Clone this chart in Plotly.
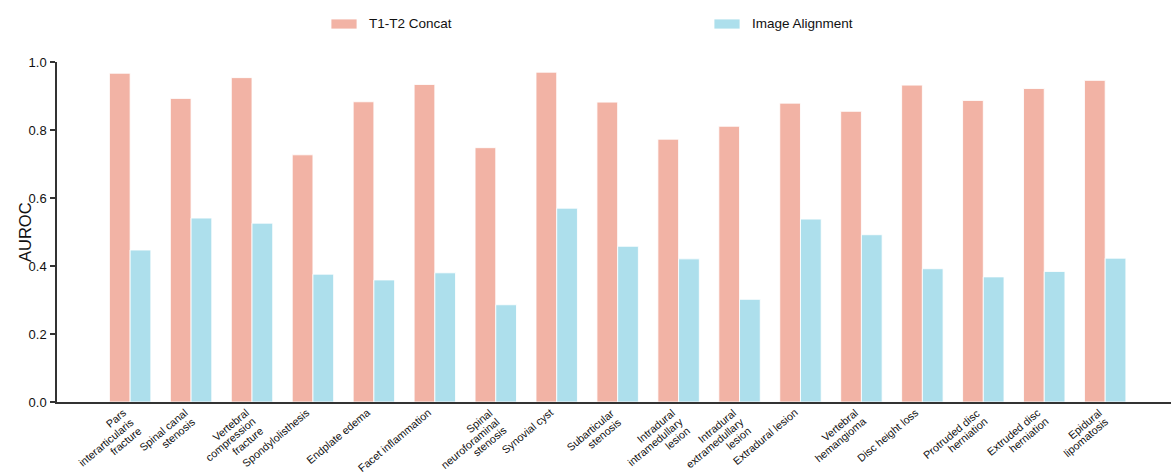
import math
import plotly.graph_objects as go

# Findings evaluated (each list item is one label, split into its text lines)
categories = [
    ["Pars", "interarticularis", "fracture"],
    ["Spinal canal", "stenosis"],
    ["Vertebral", "compression", "fracture"],
    ["Spondylolisthesis"],
    ["Endplate edema"],
    ["Facet inflammation"],
    ["Spinal", "neuroforaminal", "stenosis"],
    ["Synovial cyst"],
    ["Subarticular", "stenosis"],
    ["Intradural", "intramedullary", "lesion"],
    ["Intradural", "extramedullary", "lesion"],
    ["Extradural lesion"],
    ["Vertebral", "hemangioma"],
    ["Disc height loss"],
    ["Protruded disc", "herniation"],
    ["Extruded disc", "herniation"],
    ["Epidural", "lipomatosis"],
]

# AUROC per finding
t1t2_concat = [0.967, 0.893, 0.954, 0.727, 0.883, 0.934, 0.748, 0.970, 0.882,
               0.773, 0.811, 0.879, 0.855, 0.932, 0.887, 0.922, 0.946]
image_alignment = [0.447, 0.541, 0.526, 0.376, 0.359, 0.380, 0.286, 0.570, 0.458,
                   0.421, 0.302, 0.538, 0.492, 0.392, 0.368, 0.384, 0.423]

series_names = ["T1-T2 Concat", "Image Alignment"]
colors = ["#F2B3A5", "#ADDFEC"]
yticks = [0.0, 0.2, 0.4, 0.6, 0.8, 1.0]

W, H = 1171, 476
ML, MR, MT, MB = 57, 0, 62, 74
PW, PH = W - ML - MR, H - MT - MB
XMIN, XMAX = -1.2, 17.08
FONT = "Liberation Sans, Arial, Helvetica"

def px_x(px):
    return (px - ML) / PW

def px_y(py):
    return (H - MB - py) / PH

fig = go.Figure()
for name, vals, col in zip(series_names, [t1t2_concat, image_alignment], colors):
    fig.add_trace(go.Bar(
        x=list(range(len(categories))), y=vals, name=name,
        marker=dict(color=col, line=dict(color="rgba(255,255,255,0.85)", width=1)),
        showlegend=False,
    ))

# Legend: wide swatches with labels above the plot
legend_items = [(331, series_names[0], colors[0]), (714, series_names[1], colors[1])]
for x0, name, col in legend_items:
    fig.add_shape(type="rect", xref="paper", yref="paper",
                  x0=px_x(x0), x1=px_x(x0 + 26), y0=px_y(29), y1=px_y(19),
                  fillcolor=col, line=dict(color="rgba(255,255,255,0.8)", width=1))
    fig.add_annotation(xref="paper", yref="paper", x=px_x(x0 + 36), y=px_y(24),
                       text=name, showarrow=False, xanchor="left", yanchor="middle",
                       font=dict(family=FONT, size=13.5, color="#111"))

# Rotated category labels: lines right-aligned, stacked perpendicular to the text
ANGLE = 40
LINE_H = 11.5
px_per_cat = PW / (XMAX - XMIN)
sin_a, cos_a = math.sin(math.radians(ANGLE)), math.cos(math.radians(ANGLE))
for i, lines in enumerate(categories):
    for k, line in enumerate(lines):
        dx = k * LINE_H * sin_a
        dy = k * LINE_H * cos_a
        fig.add_annotation(xref="x", yref="paper", x=i + dx / px_per_cat,
                           y=px_y(405 + dy),
                           text=line, showarrow=False, textangle=-ANGLE,
                           xanchor="right", yanchor="top", borderpad=0,
                           font=dict(family=FONT, size=10.8, color="#111"))

# Y-axis title
fig.add_annotation(xref="paper", yref="paper", x=px_x(25), y=px_y(232),
                   text="AUROC", showarrow=False, textangle=-90,
                   xanchor="center", yanchor="middle",
                   font=dict(family=FONT, size=16.5, color="#111"))

fig.update_layout(
    width=W, height=H,
    margin=dict(l=ML, r=MR, t=MT, b=MB, pad=0),
    paper_bgcolor="white", plot_bgcolor="white",
    barmode="group", bargap=0.32, bargroupgap=0.0,
    font=dict(family=FONT, color="#111"),
    xaxis=dict(
        range=[XMIN, XMAX], automargin=False,
        tickvals=list(range(len(categories))), showticklabels=False,
        showline=True, linecolor="#333", linewidth=1.5,
        ticks="", showgrid=False, zeroline=False,
    ),
    yaxis=dict(
        range=[0, 1.0], automargin=False, tickvals=yticks,
        tickformat=".1f", tickfont=dict(size=13),
        ticks="outside", ticklen=5, tickcolor="#333", tickwidth=1.5,
        ticklabelstandoff=1,
        showline=True, linecolor="#333", linewidth=1.5,
        showgrid=False, zeroline=False,
    ),
)

fig.write_html("out.html")
